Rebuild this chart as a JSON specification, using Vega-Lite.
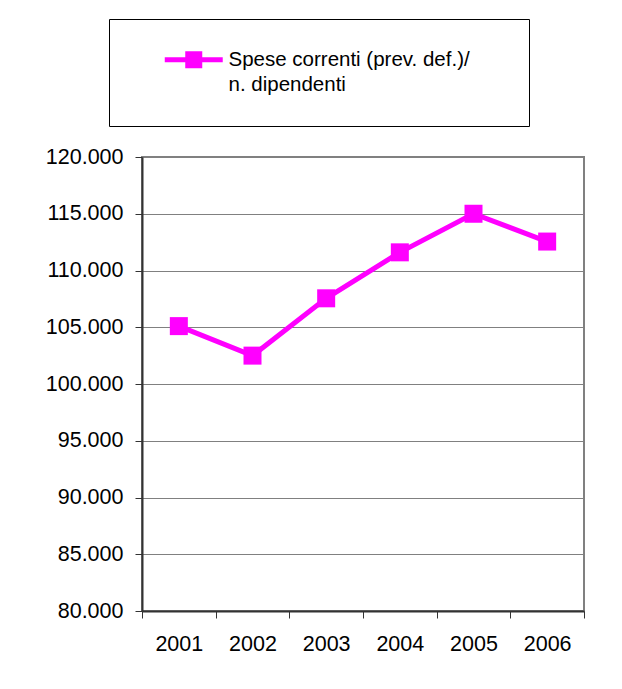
{
  "$schema": "https://vega.github.io/schema/vega-lite/v6.json",
  "width": 442,
  "height": 454,
  "autosize": {"type": "none"},
  "padding": {"left": 142, "top": 157, "right": 38, "bottom": 78},
  "background": "white",
  "data": {
    "values": [
      {"anno": "2001", "valore": 105100, "serie": "Spese correnti (prev. def.)/ n. dipendenti"},
      {"anno": "2002", "valore": 102500, "serie": "Spese correnti (prev. def.)/ n. dipendenti"},
      {"anno": "2003", "valore": 107550, "serie": "Spese correnti (prev. def.)/ n. dipendenti"},
      {"anno": "2004", "valore": 111600, "serie": "Spese correnti (prev. def.)/ n. dipendenti"},
      {"anno": "2005", "valore": 115000, "serie": "Spese correnti (prev. def.)/ n. dipendenti"},
      {"anno": "2006", "valore": 112550, "serie": "Spese correnti (prev. def.)/ n. dipendenti"}
    ]
  },
  "encoding": {
    "x": {
      "field": "anno",
      "type": "ordinal",
      "scale": {"type": "band", "paddingInner": 0, "paddingOuter": 0},
      "axis": {
        "title": null,
        "labelAngle": 0,
        "tickBand": "extent",
        "grid": false,
        "tickSize": 7,
        "tickColor": "#333333",
        "domainColor": "#333333",
        "domainWidth": 2,
        "labelPadding": 15,
        "labelFont": "Liberation Sans",
        "labelFontSize": 21.5,
        "labelColor": "black"
      }
    },
    "y": {
      "field": "valore",
      "type": "quantitative",
      "scale": {"domain": [80000, 120000], "zero": false, "nice": false},
      "axis": {
        "title": null,
        "values": [80000, 85000, 90000, 95000, 100000, 105000, 110000, 115000, 120000],
        "labelExpr": "replace(format(datum.value, ',.0f'), ',', '.')",
        "grid": true,
        "gridColor": "#808080",
        "gridWidth": 1,
        "tickSize": 7,
        "tickColor": "#333333",
        "domainColor": "#333333",
        "domainWidth": 2,
        "labelPadding": 12,
        "labelFont": "Liberation Sans",
        "labelFontSize": 21.5,
        "labelColor": "black"
      }
    },
    "color": {
      "field": "serie",
      "type": "nominal",
      "scale": {"range": ["#FF00FF"]},
      "legend": {
        "title": null,
        "orient": "none",
        "legendX": -33,
        "legendY": -138,
        "padding": 30.5,
        "strokeColor": "black",
        "fillColor": "white",
        "labelFont": "Liberation Sans",
        "labelFontSize": 20.5,
        "labelColor": "black",
        "labelLimit": 0,
        "labelExpr": "['Spese correnti (prev. def.)/\u00a0\u00a0\u00a0\u00a0\u00a0\u200b', 'n. dipendenti']",
        "symbolType": "M-3.41,-0.29H3.41V0.29H-3.41Z M-1,-1H1V1H-1Z",
        "symbolSize": 289,
        "symbolFillColor": "#FF00FF",
        "symbolStrokeWidth": 0,
        "symbolOpacity": 1,
        "symbolOffset": 44,
        "labelOffset": 24.5
      }
    }
  },
  "layer": [
    {"mark": {"type": "line", "strokeWidth": 5}},
    {"mark": {"type": "point", "shape": "square", "filled": true, "size": 324, "opacity": 1}}
  ],
  "config": {
    "view": {"stroke": "#808080", "strokeWidth": 2},
    "style": {"guide-label": {"lineHeight": 25}}
  }
}
